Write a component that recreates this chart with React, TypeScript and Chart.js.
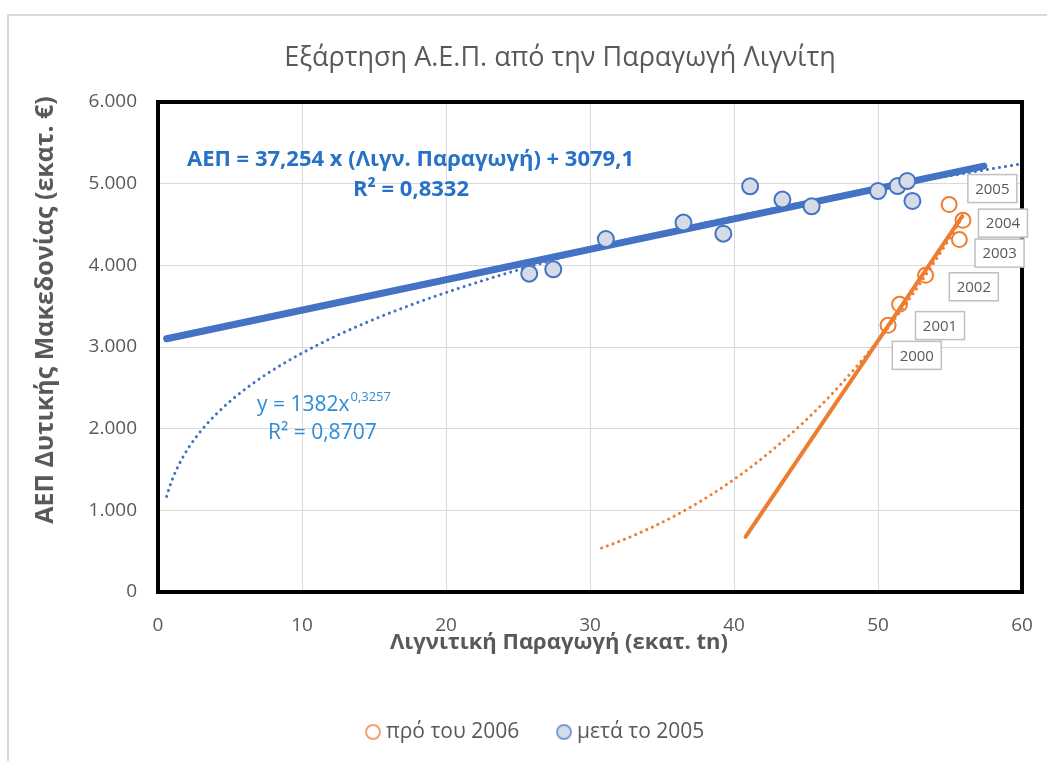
import React, { useEffect, useRef } from "react";
import { Chart, registerables } from "chart.js";

Chart.register(...registerables);

// ---------------- data ----------------
const seriesNames = ["πρό του 2006", "μετά το 2005"];

// before 2006 (years 2000-2005)
const preYears = ["2000", "2001", "2002", "2003", "2004", "2005"];
const preLignite = [50.7, 51.5, 53.3, 55.65, 55.9, 54.94];
const preGdp = [3265, 3523, 3878, 4315, 4551, 4744];

// after 2005
const postLignite = [25.78, 27.45, 31.1, 36.49, 39.26, 41.12, 43.36, 45.39, 50.0, 51.36, 52.03, 52.39];
const postGdp = [3898, 3951, 4322, 4523, 4388, 4967, 4805, 4723, 4910, 4971, 5032, 4788];

// trendlines (as shown on the chart)
const postLinearCoef = [37.254, 3079.1]; // slope, intercept
const postLinearRange = [0.6, 57.35];
const postPowerCoef = [1382, 0.3257]; // a, b
const postPowerRange = [0.6, 60];
const preLinearCoef = [261, -9974];
const preLinearRange = [40.8, 55.85];
const prePowerCoef = [0.002355, 3.6];
const prePowerRange = [30.8, 55.9];

const xTickValues = [0, 10, 20, 30, 40, 50, 60];
const yTickValues = [0, 1000, 2000, 3000, 4000, 5000, 6000];

const chartTitle = "Εξάρτηση Α.Ε.Π. από την Παραγωγή Λιγνίτη";
const xTitle = "Λιγνιτική Παραγωγή (εκατ. tn)";
const yTitle = "ΑΕΠ Δυτικής Μακεδονίας (εκατ. €)";
const linearEqText = ["ΑΕΠ = 37,254 x (Λιγν. Παραγωγή) + 3079,1", "R² = 0,8332"];
const powerEqText = ["y = 1382x", "0,3257", "R² = 0,8707"];

// ---------------- styles ----------------
const FONT = "'Open Sans', 'Noto Sans', sans-serif";
const GRAY = "#595959";
const GRID = "#D9D9D9";
const BLUE = "#4472C4";
const ORANGE = "#ED7D31";
const EQ_BLUE = "#2672C8";
const EQ2_BLUE = "#2E8BD6";
// label box offsets from each point (px): 2000..2005
const yearLabelOffsets = [
  [28.7, 30],
  [40.4, 21.3],
  [48.3, 11.5],
  [40.2, 13.5],
  [40, 2.8],
  [43.2, -16],
];

function linearPts(coef: number[], range: number[]) {
  return [
    { x: range[0], y: coef[0] * range[0] + coef[1] },
    { x: range[1], y: coef[0] * range[1] + coef[1] },
  ];
}
function powerPts(coef: number[], range: number[], n: number) {
  const pts: { x: number; y: number }[] = [];
  for (let i = 0; i <= n; i++) {
    const x = range[0] + ((range[1] - range[0]) * i) / n;
    pts.push({ x, y: coef[0] * Math.pow(x, coef[1]) });
  }
  return pts;
}
const fmtThousands = (v: number) =>
  String(Math.round(v)).replace(/\B(?=(\d{3})+(?!\d))/g, ".");

const framePlugin = {
  id: "frame",
  beforeDraw(chart: any) {
    const { ctx, width, height } = chart;
    ctx.save();
    ctx.fillStyle = "#ffffff";
    ctx.fillRect(0, 0, width, height);
    ctx.strokeStyle = "#D9D9D9";
    ctx.lineWidth = 2;
    ctx.beginPath();
    ctx.moveTo(8, height);
    ctx.lineTo(8, 15);
    ctx.lineTo(width, 15);
    ctx.stroke();
    ctx.restore();
  },
  beforeDatasetsDraw(chart: any) {
    const { ctx, chartArea: a } = chart;
    ctx.save();
    ctx.strokeStyle = "#000000";
    ctx.lineWidth = 4;
    ctx.strokeRect(a.left, a.top, a.right - a.left, a.bottom - a.top);
    ctx.restore();
  },
  afterDraw(chart: any) {
    const { ctx, chartArea: a } = chart;
    ctx.save();
    ctx.fillStyle = GRAY;
    ctx.textAlign = "center";
    ctx.textBaseline = "middle";
    // chart title
    ctx.font = `27px ${FONT}`;
    ctx.fillText(chartTitle, 560, 58);
    // x axis title
    ctx.font = `bold 22px ${FONT}`;
    ctx.fillText(xTitle, 559, a.bottom + 51);
    // y axis title
    ctx.save();
    ctx.translate(46, 310);
    ctx.rotate(-Math.PI / 2);
    ctx.font = `bold 25px ${FONT}`;
    ctx.fillText(yTitle, 0, 0);
    ctx.restore();
    ctx.restore();
  },
};

const annotationPlugin = {
  id: "annotations",
  afterDatasetsDraw(chart: any) {
    const { ctx, chartArea: a, scales } = chart;
    const xs = scales.x;
    const ys = scales.y;
    ctx.save();
    // year labels
    ctx.font = `15px ${FONT}`;
    ctx.textAlign = "center";
    ctx.textBaseline = "middle";
    preYears.forEach((yr, i) => {
      const px = xs.getPixelForValue(preLignite[i]) + yearLabelOffsets[i][0];
      const py = ys.getPixelForValue(preGdp[i]) + yearLabelOffsets[i][1];
      const w = 49;
      const h = 28;
      ctx.fillStyle = "#ffffff";
      ctx.fillRect(px - w / 2, py - h / 2, w, h);
      ctx.strokeStyle = "#BFBFBF";
      ctx.lineWidth = 1.5;
      ctx.strokeRect(px - w / 2, py - h / 2, w, h);
      ctx.fillStyle = GRAY;
      ctx.fillText(yr, px, py + 1);
    });
    // linear equation
    ctx.fillStyle = EQ_BLUE;
    ctx.font = `bold 22px ${FONT}`;
    ctx.textAlign = "left";
    ctx.fillText(linearEqText[0], a.left + 29, a.top + 58);
    ctx.textAlign = "center";
    ctx.fillText(linearEqText[1], a.left + 253, a.top + 88);
    // power equation
    ctx.fillStyle = EQ2_BLUE;
    ctx.font = `21px ${FONT}`;
    ctx.textAlign = "left";
    const x0 = a.left + 99;
    ctx.fillText(powerEqText[0], x0, a.top + 303);
    const w0 = ctx.measureText(powerEqText[0]).width;
    ctx.font = `13px ${FONT}`;
    ctx.fillText(powerEqText[1], x0 + w0 + 1, a.top + 295);
    ctx.font = `21px ${FONT}`;
    ctx.fillText(powerEqText[2], a.left + 110, a.top + 331);
    ctx.restore();
  },
};

const legendPlugin = {
  id: "customLegend",
  afterDraw(chart: any) {
    const { ctx } = chart;
    ctx.save();
    ctx.font = `21px ${FONT}`;
    const r = 7;
    const markerCenters = [373, 564];
    const y = 732;
    seriesNames.forEach((s, i) => {
      const cx = markerCenters[i];
      ctx.beginPath();
      ctx.arc(cx, y, r, 0, Math.PI * 2);
      ctx.fillStyle = i === 0 ? "#ffffff" : "#D6DCE5";
      ctx.fill();
      ctx.lineWidth = 2;
      ctx.strokeStyle = i === 0 ? "#F4A070" : "#7E9CD8";
      ctx.stroke();
      ctx.fillStyle = GRAY;
      ctx.textAlign = "left";
      ctx.textBaseline = "middle";
      ctx.fillText(s, cx + 13, y);
    });
    ctx.restore();
  },
};

export default function App() {
  const canvasRef = useRef<HTMLCanvasElement | null>(null);

  useEffect(() => {
    const canvas = canvasRef.current;
    if (!canvas) return;
    const prePoints = preLignite.map((x, i) => ({ x, y: preGdp[i] }));
    const postPoints = postLignite.map((x, i) => ({ x, y: postGdp[i] }));
    const chart = new Chart(canvas, {
      type: "scatter",
      data: {
        datasets: [
          {
            label: seriesNames[0],
            data: prePoints,
            pointRadius: 7.5,
            pointBorderWidth: 2,
            pointBackgroundColor: "rgba(255,255,255,0)",
            pointBorderColor: ORANGE,
            showLine: false,
            order: 0,
          },
          {
            label: seriesNames[1],
            data: postPoints,
            pointRadius: 8,
            pointBorderWidth: 2,
            pointBackgroundColor: "#D6DCE5",
            pointBorderColor: BLUE,
            showLine: false,
            order: 1,
          },
          {
            label: "postLinear",
            data: linearPts(postLinearCoef, postLinearRange),
            showLine: true,
            pointRadius: 0,
            borderColor: BLUE,
            borderWidth: 7,
            borderCapStyle: "round",
            order: 2,
          },
          {
            label: "postPower",
            data: powerPts(postPowerCoef, postPowerRange, 300),
            showLine: true,
            pointRadius: 0,
            borderColor: BLUE,
            borderWidth: 3,
            borderDash: [0.1, 6],
            borderCapStyle: "round",
            order: 3,
          },
          {
            label: "preLinear",
            data: linearPts(preLinearCoef, preLinearRange),
            showLine: true,
            pointRadius: 0,
            borderColor: ORANGE,
            borderWidth: 4,
            borderCapStyle: "round",
            order: 4,
          },
          {
            label: "prePower",
            data: powerPts(prePowerCoef, prePowerRange, 200),
            showLine: true,
            pointRadius: 0,
            borderColor: ORANGE,
            borderWidth: 3,
            borderDash: [0.1, 6],
            borderCapStyle: "round",
            order: 5,
          },
        ],
      },
      options: {
        animation: false,
        responsive: true,
        maintainAspectRatio: false,
        layout: { padding: { left: 0, right: 25, top: 102, bottom: 0 } },
        plugins: {
          legend: { display: false },
          tooltip: { enabled: false },
          title: { display: false },
        },
        scales: {
          x: {
            type: "linear",
            min: 0,
            max: 60,
            afterBuildTicks: (s: any) => {
              s.ticks = xTickValues.map((v) => ({ value: v }));
            },
            ticks: { color: GRAY, font: { family: FONT, size: 19 }, padding: 22 },
            grid: { color: GRID, drawTicks: false, lineWidth: 1 },
            border: { display: false },
            title: { display: false },
            afterFit: (s: any) => {
              s.height = 169;
              s.paddingLeft = 0;
              s.paddingRight = 0;
            },
          },
          y: {
            type: "linear",
            min: 0,
            max: 6000,
            afterBuildTicks: (s: any) => {
              s.ticks = yTickValues.map((v) => ({ value: v }));
            },
            ticks: {
              color: GRAY,
              font: { family: FONT, size: 19 },
              padding: 21,
              callback: (v: any) => fmtThousands(Number(v)),
            },
            grid: { color: GRID, drawTicks: false, lineWidth: 1 },
            border: { display: false },
            title: { display: false },
            afterFit: (s: any) => {
              s.width = 158;
              s.paddingTop = 0;
              s.paddingBottom = 0;
            },
          },
        },
      },
      plugins: [framePlugin, annotationPlugin, legendPlugin],
    } as any);
    return () => chart.destroy();
  }, []);

  return (
    <div style={{ position: "fixed", left: 0, top: 0, width: 1047, height: 761, background: "#fff" }}>
      <canvas ref={canvasRef} />
    </div>
  );
}
